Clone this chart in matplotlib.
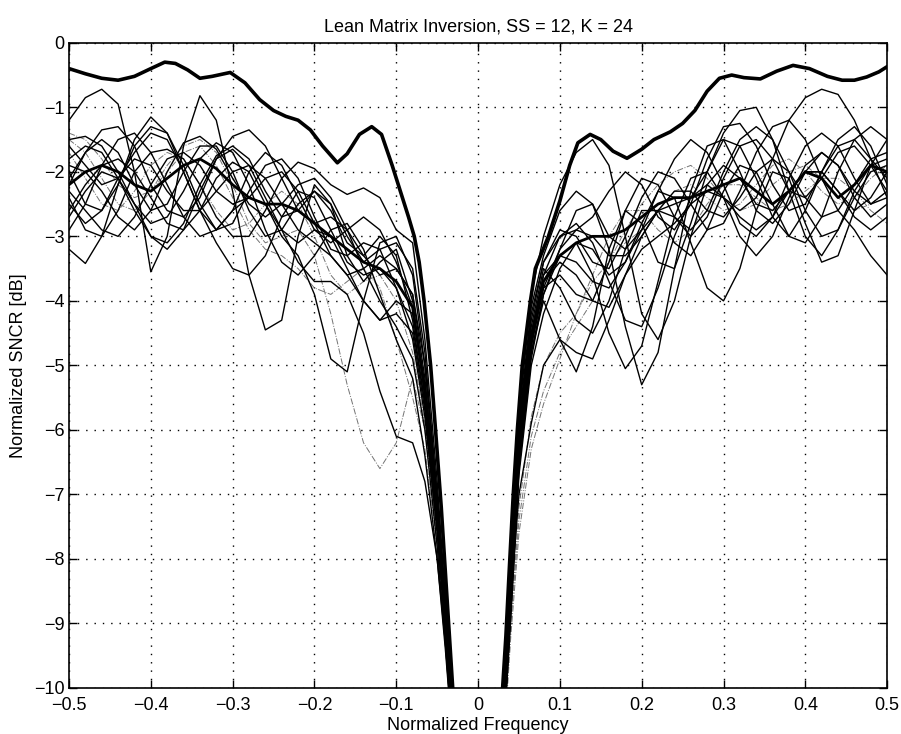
import matplotlib
matplotlib.use('Agg')
import matplotlib.pyplot as plt

plt.rcParams['font.family'] = ['Liberation Sans', 'DejaVu Sans']

# optimum (thick top) curve
opt_xl = [-0.50, -0.48, -0.46, -0.44, -0.42, -0.40, -0.383, -0.37, -0.355, -0.34, -0.325, -0.303,
          -0.285, -0.267, -0.25, -0.235, -0.22, -0.205, -0.19, -0.172, -0.16, -0.145, -0.13,
          -0.118, -0.105, -0.095, -0.085, -0.078, -0.072, -0.066, -0.058, -0.052, -0.045,
          -0.040, -0.035, -0.031]
opt_yl = [-0.40, -0.48, -0.55, -0.58, -0.52, -0.40, -0.30, -0.32, -0.42, -0.55, -0.52, -0.46,
          -0.62, -0.88, -1.05, -1.14, -1.20, -1.35, -1.60, -1.86, -1.72, -1.42, -1.30,
          -1.42, -1.90, -2.30, -2.70, -3.00, -3.40, -4.00, -5.00, -6.00, -7.20,
          -8.20, -9.20, -10.0]
opt_xr = [0.030, 0.034, 0.038, 0.043, 0.048, 0.054, 0.064, 0.070, 0.086, 0.100, 0.112, 0.122,
          0.137, 0.150, 0.165, 0.182, 0.200, 0.215, 0.235, 0.250, 0.265, 0.280, 0.295, 0.310,
          0.325, 0.345, 0.365, 0.385, 0.405, 0.427, 0.445, 0.460, 0.475, 0.490, 0.500]
opt_yr = [-10.0, -9.2, -8.2, -7.0, -6.0, -5.0, -4.0, -3.5, -3.0, -2.45, -1.9, -1.55,
          -1.42, -1.50, -1.68, -1.79, -1.65, -1.50, -1.38, -1.25, -1.05, -0.75, -0.55, -0.50,
          -0.54, -0.56, -0.44, -0.35, -0.40, -0.52, -0.58, -0.58, -0.53, -0.45, -0.37]

# common frequency grids for the adaptive curves
xl = [-0.50, -0.48, -0.46, -0.44, -0.42, -0.40, -0.38, -0.36, -0.34, -0.32, -0.30, -0.28,
      -0.26, -0.24, -0.22, -0.20, -0.18, -0.16, -0.14, -0.12, -0.10, -0.08,
      -0.065, -0.05, -0.04, -0.03]
xr = [0.03, 0.04, 0.05, 0.065,
      0.08, 0.10, 0.12, 0.14, 0.16, 0.18, 0.20, 0.22, 0.24, 0.26, 0.28, 0.30,
      0.32, 0.34, 0.36, 0.38, 0.40, 0.42, 0.44, 0.46, 0.48, 0.50]

c1 = [-1.20, -0.85, -0.72, -0.95, -2.0, -3.55, -3.0, -1.6, -0.82, -1.2, -2.3, -3.6,
      -4.45, -4.3, -3.0, -2.2, -2.5, -3.3, -3.7, -3.4, -3.2, -4.0, -5.5, -7.5, -9.0, -10.8]
c2 = [-2.6, -2.2, -1.9, -1.8, -2.0, -2.4, -2.8, -2.9, -2.6, -2.1, -1.85, -2.0,
      -2.5, -3.0, -3.3, -3.9, -4.9, -5.1, -4.0, -3.1, -3.0, -3.6, -5.0, -7.0, -8.8, -10.6]
c3 = [-1.5, -1.7, -2.1, -2.5, -2.6, -2.3, -1.9, -1.6, -1.5, -1.7, -2.2, -2.8,
      -3.1, -3.0, -2.9, -3.3, -4.2, -5.3, -6.2, -6.6, -6.2, -5.2, -6.0, -7.5, -9.0, -10.7]
c4 = [-2.9, -2.5, -1.9, -1.5, -1.4, -1.7, -2.2, -2.7, -3.0, -2.9, -2.6, -2.4,
      -2.5, -2.9, -3.4, -3.7, -3.7, -3.9, -4.5, -5.4, -6.1, -6.2, -6.8, -8.0, -9.3, -10.9]
c5 = [-3.2, -3.42, -3.0, -2.2, -1.6, -1.3, -1.4, -1.9, -2.5, -2.9, -2.8, -2.3,
      -1.9, -1.8, -2.1, -2.7, -3.2, -3.3, -3.1, -3.2, -3.8, -4.6, -5.8, -7.6, -9.1, -10.9]
c6 = [-2.0, -2.5, -2.6, -2.2, -1.5, -1.15, -1.4, -2.0, -2.6, -3.1, -3.5, -3.6,
      -3.3, -2.7, -2.3, -2.4, -2.9, -3.4, -3.6, -3.5, -3.8, -4.4, -5.6, -7.4, -9.0, -10.8]
c7 = [-2.2, -1.7, -1.35, -1.3, -1.6, -2.2, -2.6, -2.7, -2.4, -1.8, -1.45, -1.35,
      -1.6, -2.1, -2.6, -2.8, -2.7, -2.9, -3.3, -3.6, -3.5, -3.9, -5.2, -7.2, -8.8, -10.5]
c8 = [-1.5, -1.45, -1.6, -2.0, -2.5, -2.8, -2.7, -2.3, -1.8, -1.55, -1.7, -2.2,
      -2.9, -3.4, -3.6, -3.3, -2.9, -2.8, -3.2, -3.9, -4.6, -5.2, -6.4, -8.0, -9.4, -11.0]
c9 = [-2.4, -2.9, -3.0, -2.6, -2.0, -1.7, -1.65, -1.8, -2.2, -2.7, -3.0, -3.0,
      -2.6, -2.1, -1.85, -1.95, -2.2, -2.35, -2.25, -2.4, -2.9, -3.1, -4.6, -6.8, -8.6, -10.4]
c10 = [-1.9, -2.0, -2.3, -2.7, -2.9, -2.6, -2.0, -1.55, -1.45, -1.65, -2.1, -2.5,
       -2.7, -2.5, -2.2, -2.1, -2.4, -2.9, -3.5, -4.0, -4.4, -4.9, -6.0, -7.8, -9.3, -11.0]
c11 = [-1.7, -2.1, -2.5, -2.6, -2.3, -1.9, -1.7, -1.8, -2.2, -2.6, -2.9, -2.8,
       -2.5, -2.3, -2.5, -3.0, -3.6, -3.9, -3.7, -3.6, -4.0, -4.8, -5.9, -7.7, -9.2, -10.9]
c12 = [-2.7, -2.3, -2.0, -2.1, -2.5, -3.0, -3.2, -2.9, -2.3, -1.8, -1.65, -1.9,
       -2.4, -2.9, -3.1, -2.9, -3.0, -3.5, -4.0, -4.3, -4.2, -4.5, -5.7, -7.5, -9.1, -10.8]
c13 = [-1.8, -1.6, -1.7, -2.1, -2.6, -3.0, -3.1, -2.8, -2.2, -1.75, -1.6, -1.8,
       -2.3, -2.7, -2.6, -2.3, -2.5, -3.0, -3.4, -3.2, -3.1, -3.5, -4.8, -7.0, -8.7, -10.5]
c14 = [-2.5, -2.8, -2.6, -2.1, -1.8, -1.9, -2.3, -2.6, -2.6, -2.3, -2.0, -1.9,
       -2.1, -2.5, -2.9, -3.1, -3.3, -3.6, -4.0, -4.3, -4.0, -4.2, -5.4, -7.3, -8.9, -10.7]
c15 = [-1.6, -1.9, -2.2, -2.1, -1.7, -1.4, -1.5, -2.0, -2.6, -2.9, -2.6, -2.0,
       -1.7, -1.9, -2.4, -2.9, -3.1, -2.9, -2.7, -2.9, -3.4, -4.1, -5.3, -7.2, -8.9, -10.6]
c16 = [-2.1, -1.7, -1.5, -1.7, -2.2, -2.6, -2.5, -2.0, -1.6, -1.6, -2.0, -2.6,
       -3.0, -2.9, -2.5, -2.3, -2.6, -3.1, -3.3, -3.0, -3.3, -4.3, -5.6, -7.4, -9.0, -10.8]
c17 = [-2.3, -2.6, -2.9, -3.0, -2.7, -2.2, -1.8, -1.7, -1.9, -2.3, -2.5, -2.4,
       -2.1, -2.0, -2.3, -2.8, -3.3, -3.6, -3.5, -3.3, -3.5, -3.9, -5.0, -7.1, -8.8, -10.5]
c18 = [-1.4, -1.5, -1.8, -2.2, -2.4, -2.3, -2.0, -1.7, -1.6, -1.9, -2.4, -2.9,
       -3.2, -3.3, -3.5, -3.8, -3.9, -3.7, -3.5, -3.8, -4.6, -5.5, -6.3, -7.8, -9.2, -10.8]
cm = [-2.2, -2.0, -1.9, -2.0, -2.2, -2.3, -2.1, -1.9, -1.8, -1.95, -2.2, -2.4,
      -2.5, -2.5, -2.6, -2.8, -3.0, -3.2, -3.4, -3.5, -3.7, -4.1, -5.4, -7.3, -9.0, -10.7]

r1 = [-10.8, -8.5, -6.2, -4.5, -3.6, -3.0, -2.8, -3.1, -3.7, -4.3, -4.4, -3.8, -3.0, -2.4,
      -2.2, -2.4, -2.6, -2.4, -1.8, -1.2, -0.85, -0.72, -0.8, -1.2, -1.8, -2.4]
r2 = [-11.0, -8.8, -6.6, -4.9, -3.9, -3.2, -2.6, -2.5, -3.2, -4.4, -5.3, -4.8, -3.5, -2.3,
      -1.6, -1.5, -2.0, -2.6, -2.8, -2.5, -2.0, -1.7, -1.9, -2.4, -2.7, -2.5]
r3 = [-11.0, -8.7, -6.4, -4.8, -4.0, -4.6, -5.1, -4.4, -3.2, -2.6, -2.8, -3.4, -3.5, -2.8,
      -2.0, -1.5, -1.6, -2.1, -2.7, -3.0, -2.6, -2.0, -1.5, -1.3, -1.6, -2.2]
r4 = [-10.6, -8.0, -5.8, -3.9, -3.0, -2.2, -1.7, -1.5, -1.9, -3.0, -4.2, -4.6, -4.0, -3.0,
      -2.2, -1.9, -2.1, -2.5, -2.6, -2.3, -2.0, -2.0, -2.3, -2.6, -2.4, -2.0]
r5 = [-10.9, -8.6, -6.4, -4.6, -3.7, -3.4, -3.6, -4.0, -4.1, -3.6, -3.0, -2.6, -2.5, -2.4,
      -2.0, -1.4, -1.05, -1.0, -1.5, -2.3, -3.0, -3.3, -2.9, -2.3, -1.9, -1.8]
r6 = [-11.0, -8.9, -6.7, -5.0, -4.2, -3.5, -3.1, -3.2, -3.6, -3.4, -2.8, -2.3, -2.4, -3.1,
      -3.8, -4.0, -3.5, -2.6, -2.0, -2.1, -2.8, -3.4, -3.3, -2.6, -1.9, -1.5]
r7 = [-10.7, -8.3, -6.0, -4.2, -3.4, -2.9, -3.0, -3.4, -3.5, -3.0, -2.4, -2.0, -2.1, -2.5,
      -2.9, -2.8, -2.3, -1.7, -1.3, -1.2, -1.5, -2.1, -2.6, -2.9, -3.3, -3.6]
r8 = [-11.2, -9.2, -7.6, -6.3, -5.6, -4.9, -4.2, -3.7, -3.4, -3.1, -2.9, -2.6, -2.3, -2.2,
      -2.4, -2.6, -2.5, -2.2, -1.9, -1.8, -2.0, -2.3, -2.5, -2.4, -2.1, -1.9]
r9 = [-10.9, -8.6, -6.5, -4.7, -3.8, -3.2, -2.9, -3.0, -3.3, -3.3, -3.0, -2.6, -2.3, -2.3,
      -2.6, -2.7, -2.4, -2.0, -1.8, -2.0, -2.4, -2.7, -2.6, -2.2, -1.8, -1.7]
r10 = [-11.0, -8.8, -6.6, -4.8, -3.9, -3.3, -3.1, -3.6, -4.5, -5.05, -4.7, -3.7, -2.7, -2.1,
       -2.0, -2.4, -3.0, -3.3, -3.0, -2.4, -1.9, -1.7, -1.9, -2.3, -2.5, -2.3]
r11 = [-10.5, -8.6, -7.0, -5.9, -5.0, -4.6, -4.8, -4.9, -4.3, -3.6, -3.2, -3.0, -2.8, -2.5,
       -2.3, -2.4, -2.7, -2.9, -2.7, -2.3, -2.0, -2.0, -2.3, -2.7, -2.9, -2.7]
r12 = [-10.8, -8.2, -5.9, -4.1, -3.3, -2.6, -2.3, -2.5, -3.0, -3.2, -2.9, -2.3, -1.8, -1.5,
       -1.7, -2.2, -2.8, -3.0, -2.7, -2.1, -1.6, -1.4, -1.6, -2.1, -2.5, -2.4]
r13 = [-11.0, -9.0, -7.2, -5.8, -5.0, -4.5, -4.2, -3.6, -3.0, -2.6, -2.6, -2.9, -3.1, -2.9,
       -2.5, -2.2, -2.2, -2.4, -2.6, -2.5, -2.3, -2.1, -2.1, -2.3, -2.6, -2.8]
r14 = [-10.6, -8.1, -6.0, -4.4, -3.5, -3.8, -4.3, -4.5, -4.0, -3.2, -2.6, -2.6, -3.1, -3.3,
       -2.9, -2.3, -1.9, -2.0, -2.5, -3.0, -3.1, -2.7, -2.0, -1.5, -1.3, -1.5]
r15 = [-10.7, -8.4, -6.1, -4.3, -3.4, -3.0, -2.9, -2.7, -2.3, -2.0, -2.2, -2.7, -2.9, -2.5,
       -1.8, -1.3, -1.25, -1.6, -2.2, -2.6, -2.5, -2.0, -1.6, -1.5, -1.8, -2.1]
r16 = [-10.9, -8.7, -6.5, -4.7, -3.8, -3.6, -3.9, -4.0, -3.4, -2.6, -2.1, -2.2, -2.7, -3.0,
       -2.7, -2.1, -1.6, -1.5, -1.8, -2.3, -2.4, -2.1, -1.7, -1.6, -1.9, -2.3]
r17 = [-10.8, -8.4, -6.2, -4.5, -3.6, -3.3, -3.4, -3.7, -3.8, -3.4, -2.9, -2.6, -2.7, -2.9,
       -2.6, -2.0, -1.5, -1.3, -1.5, -2.0, -2.6, -3.0, -2.9, -2.4, -2.0, -1.9]
r18 = [-11.0, -9.0, -7.4, -6.1, -5.4, -4.8, -4.4, -4.0, -3.4, -2.9, -2.5, -2.2, -2.0, -1.9,
       -2.1, -2.4, -2.6, -2.5, -2.2, -2.0, -1.9, -2.1, -2.4, -2.6, -2.5, -2.3]
rm = [-10.8, -8.5, -6.3, -4.6, -3.7, -3.3, -3.1, -3.0, -3.0, -2.9, -2.7, -2.5, -2.4, -2.4,
      -2.3, -2.2, -2.1, -2.3, -2.5, -2.3, -2.0, -2.1, -2.4, -2.2, -1.9, -2.0]

solid = [(c1, r1), (c2, r2), (c4, r4), (c5, r5), (c6, r6), (c7, r7), (c8, r9),
         (c9, r10), (c10, r12), (c12, r14), (c13, r3), (c14, r11),
         (c15, r15), (c16, r16), (c17, r17)]
gray = [(c3, r8), (c11, r13), (c18, r18)]

fig = plt.figure(figsize=(9.01, 7.34), dpi=100)
ax = fig.add_axes([0.0766, 0.0627, 0.908, 0.879])

for yl, yr in gray:
    ax.plot(xl + xr, yl + yr, '-.', color='0.45', lw=0.7)
for yl, yr in solid:
    ax.plot(xl + xr, yl + yr, 'k-', lw=1.0, solid_joinstyle='round')
ax.plot(xl + xr, cm + rm, 'k-', lw=2.0, solid_joinstyle='round')
ax.plot(opt_xl, opt_yl, 'k-', lw=2.6, solid_joinstyle='round')
ax.plot(opt_xr, opt_yr, 'k-', lw=2.6, solid_joinstyle='round')

ax.set_xlim(-0.5, 0.5)
ax.set_ylim(-10, 0)
ax.set_xticks([-0.5, -0.4, -0.3, -0.2, -0.1, 0, 0.1, 0.2, 0.3, 0.4, 0.5])
ax.set_xticklabels(['\u22120.5', '\u22120.4', '\u22120.3', '\u22120.2', '\u22120.1', '0',
                    '0.1', '0.2', '0.3', '0.4', '0.5'])
ax.set_yticks(range(-10, 1))
ax.set_yticklabels(['\u221210', '\u22129', '\u22128', '\u22127', '\u22126', '\u22125',
                    '\u22124', '\u22123', '\u22122', '\u22121', '0'])
ax.tick_params(direction='in', length=6, width=1, labelsize=13, top=True, right=True,
               labeltop=False, labelright=False)
ax.tick_params(axis='x', pad=6.5)
ax.tick_params(axis='y', pad=3)
ax.grid(True, color='k', linestyle=(0, (1, 5)), lw=1.0)
for s in ax.spines.values():
    s.set_linewidth(1.2)

ax.set_title('Lean Matrix Inversion, SS = 12, K = 24', fontsize=13, pad=8)
ax.set_xlabel('Normalized Frequency', fontsize=13, labelpad=2)
ax.set_ylabel('Normalized SNCR [dB]', fontsize=13, labelpad=5)

fig.savefig('out.png', dpi=100)
